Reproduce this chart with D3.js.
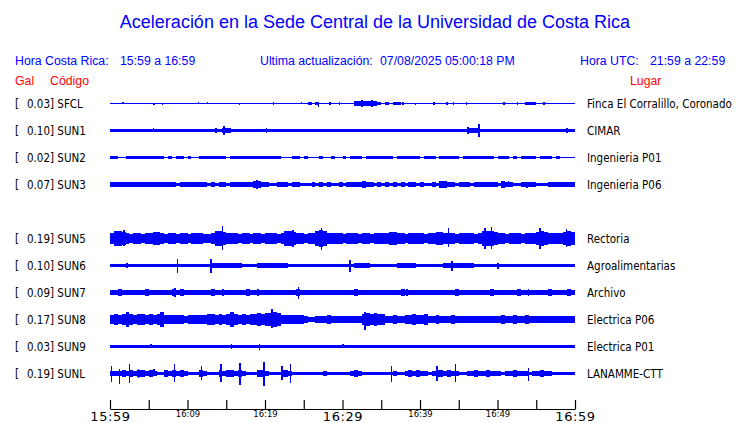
<!DOCTYPE html>
<html>
<head>
<meta charset="utf-8">
<script src="https://cdn.jsdelivr.net/npm/d3@7"></script>
<style>
  body { margin: 0; background: #fff; }
  .hdr { font-family: "Liberation Sans", Arial, sans-serif; font-size: 12.3px; }
  .lbl { font-family: "DejaVu Sans Condensed", "DejaVu Sans", sans-serif; font-stretch: condensed; font-size: 11.5px; fill: #000; }
  .axis text { font-family: "DejaVu Sans", sans-serif; fill: #000; }
</style>
</head>
<body>
<svg width="740" height="423"></svg>
<script>
var width = 740;
var height = 423;

// stations, top to bottom (SUN4 slot is empty)
var codes = ["SFCL", "SUN1", "SUN2", "SUN3", "SUN5", "SUN6", "SUN7", "SUN8", "SUN9", "SUNL"];
var slots = [0, 1, 2, 3, 5, 6, 7, 8, 9, 10];
var peaks = ["0.03", "0.10", "0.02", "0.07", "0.19", "0.10", "0.09", "0.17", "0.03", "0.19"];
var places = ["Finca El Corralillo, Coronado", "CIMAR", "Ingenieria P01", "Ingenieria P06",
  "Rectoria", "Agroalimentarias", "Archivo", "Electrica P06", "Electrica P01", "LANAMME-CTT"];

// envelope, half amplitude in % of full scale, one value per 30 s (120 per hour)
var envSFCL = [4,4,4,4,4,4,4,4,4,4, 4,4,4,4,4,4,4,4,4,4, 4,4,4,4,4,4,4,4,4,4, 4,4,4,4,4,4,4,4,4,4,
  4,4,4,4,4,4,4,4,4,4, 4,15,4,15,4,4,4,4,4,4, 4,4,4,18,20,22,18,20,22,15, 4,12,4,10,10,4,4,4,4,4,
  4,4,4,4,4,4,4,4,4,4, 4,4,4,4,4,4,4,4,4,4, 4,4,4,4,4,4,4,15,15,12, 4,4,4,4,4,4,4,4,4,4];
var envSUN1 = [13,13,13,13,13,13,13,13,13,13, 13,13,13,13,13,13,13,13,13,13, 13,13,13,13,13,13,13,13,14,16,
  16,12,12,11,10,12,10,13,11,10, 12,10,9,10,10,12,12,11,12,13, 11,9,11,13,12,10,12,13,12,11,
  10,13,12,12,10,11,13,12,10,10, 12,10,12,11,10,12,13,10,11,12, 10,13,12,11,10,12,13,10,11,12,
  13,15,18,20,16,13,10,12,13,11, 12,10,13,12,10,12,13,10,11,12, 10,13,11,10,13,12,10,11,13,13];
var envSUN2 = [13,13,5,5,13,12,13,11,13,11, 13,13,12,13,5,13,5,12,13,5, 13,5,5,13,12,13,11,13,12,13,
  5,13,13,13,12,13,13,13,13,12, 13,13,13,12,5,5,5,13,13,5, 12,5,5,5,13,5,5,12,5,5,
  12,5,13,13,12,5,12,13,11,13, 12,13,12,5,13,12,13,13,11,13, 5,13,13,12,5,13,13,12,13,12,
  5,13,12,13,13,13,12,13,13,5, 13,12,13,5,12,5,13,13,13,12, 5,13,12,13,5,12,5,5,5,5];
var envSUN3 = [20,22,18,20,22,20,18,22,20,20, 18,20,22,18,16,20,18,14,18,20, 16,18,20,16,18,14,18,12,16,18,
  14,20,16,18,22,18,20,24,26,22, 20,14,12,18,16,20,14,18,16,12, 14,12,16,14,18,12,16,14,12,16,
  14,18,16,22,20,24,18,16,14,18, 12,16,14,18,12,16,14,18,16,12, 16,14,12,18,14,24,26,22,20,14,
  18,16,18,14,18,16,18,20,16,18, 14,24,22,20,14,12,20,18,22,16, 12,14,12,16,18,20,16,18,18,20];
var envSUN5 = [40,55,58,52,45,38,40,42,36,40, 44,48,50,40,38,42,40,36,40,44, 38,42,40,44,38,36,40,55,60,52,
  45,40,42,38,44,40,36,42,40,38, 42,40,44,38,42,55,58,50,42,40, 38,42,45,58,62,55,42,40,44,40,
  38,42,40,44,38,40,42,38,42,40, 44,40,50,52,46,40,38,42,40,44, 40,38,42,44,50,52,44,40,42,38,
  40,44,42,40,38,44,55,60,58,52, 44,40,38,42,44,40,38,42,40,42, 52,56,50,42,40,44,40,52,56,50];
var envSUN6 = [12,12,12,10,10,10,15,15,15,10, 15,15,15,15,10,10,10,10,10,10, 10,10,10,15,15,10,17,17,17,17,
  17,17,17,17,10,10,15,15,16,16, 16,16,16,16,16,16,10,10,10,10, 12,10,10,10,10,14,14,14,14,10,
  10,10,10,16,16,16,16,10,12,12, 12,10,15,10,16,16,16,16,16,10, 10,10,10,14,14,14,18,18,18,18,
  18,18,18,18,10,10,10,15,15,15, 15,15,12,12,12,14,14,14,12,12, 12,15,15,15,15,15,15,15,12,12];
var envSUN7 = [22,20,24,18,22,16,20,22,18,24, 20,18,22,16,20,18,24,20,26,22, 18,20,16,22,18,20,24,18,22,20,
  18,16,20,22,18,24,20,18,22,20, 16,20,22,18,20,16,22,20,24,22, 18,20,16,22,18,20,22,16,20,18,
  22,18,20,24,20,18,22,16,20,22, 18,20,22,16,20,24,22,18,20,16, 22,20,18,22,16,20,18,22,20,24,
  20,18,22,16,20,22,18,20,24,20, 18,22,20,16,20,24,22,18,20,22, 20,18,22,24,20,18,22,20,24,22];
var envSUN8 = [38,42,36,40,54,42,38,44,40,36, 42,38,40,55,36,32,38,34,36,30, 36,34,38,32,36,40,44,38,42,36,
  40,55,42,38,44,36,40,42,50,46, 52,48,54,50,36,38,32,36,34,38, 30,22,20,24,30,28,32,30,28,30,
  26,28,30,26,28,46,50,44,48,40, 42,30,28,32,30,28,38,36,40,38, 36,40,30,28,32,30,28,30,32,28,
  26,28,24,26,28,24,26,28,26,24, 30,32,28,30,34,30,28,32,30,28, 28,30,26,28,30,28,26,30,28,30];
var envSUN9 = [13,13,13,13,13,13,13,13,13,13, 13,13,13,13,13,13,13,13,13,13, 13,13,13,13,13,13,13,13,13,13,
  13,13,13,13,13,13,13,13,13,13, 13,13,13,13,13,13,13,13,12,13, 12,13,12,13,13,13,13,13,13,13,
  13,13,13,13,13,13,13,13,13,13, 13,13,13,13,13,13,13,13,13,13, 13,13,13,13,13,13,13,13,13,13,
  13,13,13,13,13,13,13,13,13,13, 13,13,13,13,13,13,13,13,13,13, 13,13,13,13,13,13,13,13,13,13];
var envSUNL = [18,20,16,25,22,25,20,24,25,22, 24,22,13,13,24,22,25,20,24,22, 13,13,13,24,22,13,13,13,25,22,
  24,25,22,24,20,13,13,13,24,25, 22,13,13,13,24,25,22,13,13,13, 13,13,13,13,13,20,13,13,13,13,
  13,13,22,24,20,13,13,13,13,13, 13,13,13,20,13,13,22,24,20,25, 22,20,13,22,25,24,22,25,20,22,
  13,13,20,22,24,20,22,24,20,22, 20,13,22,20,24,22,20,22,13,20, 22,24,20,22,13,13,13,13,13,13];
var envelopes = [envSFCL, envSUN1, envSUN2, envSUN3, envSUN5, envSUN6, envSUN7, envSUN8, envSUN9, envSUNL];

// single peaks: [minute, up %, down %]
var spkSFCL = [[1.7,8,4],[5.7,4,8],[6.75,4,10],[11.4,8,4],[12.6,8,4],[16.7,4,8],[21.1,10,10],[24.7,8,4],
  [25.7,15,15],[26.6,15,15],[26.9,12,25],[28.4,10,10],[29.6,10,10],[32.5,25,25],[33.8,25,25],[35.6,15,15],
  [37.0,12,12],[37.8,12,12],[39.4,4,8],[41.8,10,10],[43.5,10,10],[44.3,10,10],[46.0,10,10],[50.8,12,12],
  [52.6,10,10],[56.0,10,12]];
var spkSUN1 = [[5.6,18,8],[13.7,22,22],[14.7,35,35],[15.5,20,22],[20.2,20,18],[46.2,25,25],[47.6,50,48],[59.0,16,16]];
var spkSUN2 = [[0.3,14,12]];
var spkSUN3 = [[19.0,36,33],[51.4,26,20],[53.8,22,24]];
var spkSUN5 = [[1.8,64,56],[14.5,97,85],[23.6,62,66],[27.3,82,90],[43.7,82,64],[48.4,77,77],[49.2,90,82],[55.5,77,77],[58.9,72,64]];
var spkSUN6 = [[2.2,23,23],[8.7,49,54],[13.0,49,54],[31.0,41,49],[44.1,31,41],[50.1,23,28]];
var spkSUN7 = [[8.4,36,31],[14.6,28,26],[19.1,30,26],[24.3,46,51],[38.3,28,30],[54.0,30,28]];
var spkSUN8 = [[2.2,54,54],[6.9,55,55],[15.7,55,60],[20.9,77,64],[32.9,56,82]];
var spkSUN9 = [[5.3,18,13],[15.7,20,20],[19.3,22,24],[30.1,16,13],[37.2,15,13],[42.1,15,13],[55.5,15,13]];
var spkSUNL = [[0.2,59,69],[1.2,33,82],[2.5,72,74],[3.7,33,31],[5.7,33,23],[8.3,72,69],[11.8,54,49],[14.3,72,69],
  [16.8,77,90],[19.9,85,95],[22.2,59,49],[23.3,72,74],[36.3,54,64],[42.2,59,56],[44.6,72,69],[54.0,46,56]];
var spikes = [spkSFCL, spkSUN1, spkSUN2, spkSUN3, spkSUN5, spkSUN6, spkSUN7, spkSUN8, spkSUN9, spkSUNL];

var startTime = new Date(2025, 6, 8, 15, 59);
var tickMinutes = [0, 5, 10, 15, 20, 25, 30, 35, 40, 45, 50, 55, 60];
var bigMinutes = [0, 30, 60];

var svg = d3.select('svg');
svg.append('rect').attr('width', width).attr('height', height).attr('fill', '#fff');

var x = d3.scaleLinear().domain([0, 60]).range([110, 575]);
var t = d3.scaleTime().domain([startTime, d3.timeMinute.offset(startTime, 60)]).range([110, 575]);
var rowY = d3.scaleLinear().domain([0, 10]).range([103.5, 373.5]);
var amp = d3.scaleLinear().domain([0, 100]).range([0, 13]);

// title and header
svg.append('text').attr('x', 375).attr('y', 28).attr('text-anchor', 'middle')
  .attr('font-family', '"Liberation Sans", Arial, sans-serif').attr('font-size', 18).attr('fill', '#0000ff')
  .text('Aceleración en la Sede Central de la Universidad de Costa Rica');

var hdr = [[15, 'Hora Costa Rica:'], [120, '15:59 a 16:59'], [260, 'Ultima actualización:'],
  [380, '07/08/2025 05:00:18 PM'], [580, 'Hora UTC:'], [650, '21:59 a 22:59']];
svg.selectAll('.h1').data(hdr).enter().append('text').attr('class', 'hdr')
  .attr('x', function(d){ return d[0]; }).attr('y', 65).attr('fill', '#0000ff')
  .text(function(d){ return d[1]; });

var hdr2 = [[15, 'Gal'], [50, 'Código'], [630, 'Lugar']];
svg.selectAll('.h2').data(hdr2).enter().append('text').attr('class', 'hdr')
  .attr('x', function(d){ return d[0]; }).attr('y', 85).attr('fill', '#ff0000')
  .text(function(d){ return d[1]; });

// rows
var area = d3.area().curve(d3.curveStepAfter);

codes.forEach(function(code, i){
  var cy = rowY(slots[i]);
  var env = envelopes[i].concat([envelopes[i][envelopes[i].length - 1]]);
  var g = svg.append('g').attr('class', 'row');

  g.append('text').attr('class', 'lbl').attr('x', 15).attr('y', cy + 4).text('[');
  g.append('text').attr('class', 'lbl').attr('x', 27).attr('y', cy + 4).text(peaks[i] + '] ' + code);
  g.append('text').attr('class', 'lbl').attr('x', 587).attr('y', cy + 4).text(places[i]);

  // snap band edges to whole pixels, at least 1px thick
  g.append('path')
    .datum(env)
    .attr('d', area
      .x(function(d, k){ return x(k / 2); })
      .y0(function(d){ return Math.max(Math.round(cy + amp(d)), Math.round(cy - amp(d)) + 1); })
      .y1(function(d){ return Math.round(cy - amp(d)); }))
    .attr('fill', '#0000ff')
    .attr('shape-rendering', 'crispEdges');

  g.selectAll('line').data(spikes[i]).enter().append('line')
    .attr('x1', function(d){ return x(d[0]); })
    .attr('x2', function(d){ return x(d[0]); })
    .attr('y1', function(d){ return Math.round(cy - amp(d[1])); })
    .attr('y2', function(d){ return Math.round(cy + amp(d[2])); })
    .attr('stroke', '#0000ff').attr('stroke-width', 1.6)
    .attr('shape-rendering', 'crispEdges');
});

// time axis
var fmt = d3.timeFormat('%H:%M');
var axis = d3.axisBottom(t)
  .tickValues(tickMinutes.map(function(m){ return d3.timeMinute.offset(startTime, m); }))
  .tickSizeInner(-9).tickSizeOuter(0).tickPadding(3)
  .tickFormat(function(d){
    var m = Math.round((d - startTime) / 60000);
    return m % 10 === 0 ? fmt(d) : '';
  });

var ax = svg.append('g').attr('class', 'axis').attr('transform', 'translate(0,409)').call(axis);
ax.select('.domain').attr('stroke', '#000').attr('stroke-width', 1.2);
ax.selectAll('.tick line').attr('stroke', '#000').attr('stroke-width', 1.2);
ax.selectAll('.tick text')
  .attr('dy', null)
  .attr('y', function(d){
    var m = Math.round((d - startTime) / 60000);
    return bigMinutes.indexOf(m) >= 0 ? 12 : 8;
  })
  .attr('font-size', function(d){
    var m = Math.round((d - startTime) / 60000);
    return bigMinutes.indexOf(m) >= 0 ? 13 : 8.5;
  })
  .attr('letter-spacing', function(d){
    var m = Math.round((d - startTime) / 60000);
    return bigMinutes.indexOf(m) >= 0 ? 0.6 : 0;
  });
</script>
</body>
</html>
